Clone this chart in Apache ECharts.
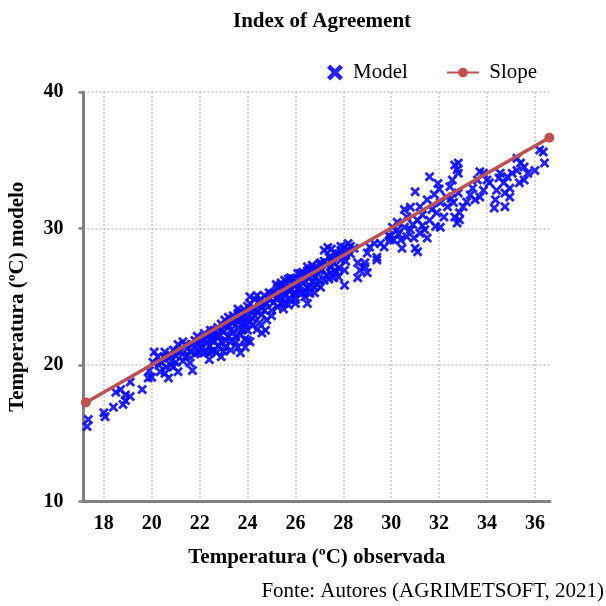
<!DOCTYPE html>
<html>
<head>
<meta charset="utf-8">
<script src="https://cdn.jsdelivr.net/npm/echarts@6/dist/echarts.min.js"></script>
<style>
  html, body { margin: 0; padding: 0; background: #ffffff; }
  #chart { width: 606px; height: 606px; }
</style>
</head>
<body>
<div id="chart"></div>
<script>
// Observed vs. modelled temperature pairs [observed, model], grouped by range
const pointsBelow20 = [
  [17.35,16.0],[17.3,15.5],[18.0,16.5],[18.05,16.2],[18.4,16.9],[18.8,17.1],[18.9,17.4],
  [18.5,18.0],[18.7,18.2],[18.9,17.8],[19.1,17.7],[19.1,18.75],[19.6,18.2],[19.85,19.05],
  [20.0,19.1],[19.9,19.6]
];
const points20to22 = [
  [20.1,20.95],[20.05,20.2],[20.35,19.5],[20.55,19.4],[20.7,19.05],[20.6,19.85],[20.9,19.85],
  [21.1,19.5],[20.8,20.7],[21.1,20.9],[20.55,20.95],[20.25,20.6],[21.4,20.6],[21.6,20.15],
  [21.7,19.6],[21.1,21.5],[21.4,21.5],[21.8,21.8],[21.9,20.9],[21.2,21.0],[21.5,21.2],
  [21.7,21.5],[21.3,20.3],[21.8,20.8],[21.9,21.6],[21.6,21.0],[21.0,20.2],[20.8,20.0],
  [20.4,20.2],[20.7,20.5],[21.3,21.7],[21.5,20.7],[21.0,20.7],[20.3,20.0],[20.5,20.6],
  [20.9,21.1],[21.9,22.1]
];
const points22to24 = [
  [22.05,21.3],[22.35,20.9],[22.4,20.4],[22.2,21.95],[22.45,22.2],[22.6,22.55],[22.05,21.6],
  [22.2,20.9],[22.6,21.1],[22.55,22.05],[22.75,22.75],[23.05,23.3],[23.2,23.5],[23.3,22.55],
  [23.5,22.05],[23.6,21.3],[23.3,21.1],[23.05,21.3],[22.9,20.6],[23.7,20.9],[23.9,21.3],
  [24.0,21.8],[23.9,23.1],[23.5,23.3],[23.6,23.8],[23.7,23.3],[22.75,22.05],[22.45,22.55],
  [22.1,21.9],[22.3,21.6],[22.5,21.8],[22.8,22.2],[22.9,21.7],[22.6,22.4],[23.0,22.4],
  [22.9,23.0],[22.7,20.9],[22.5,21.0],[23.1,21.8],[23.2,22.9],[23.4,23.1],[23.6,23.2],
  [23.8,23.5],[23.9,22.9],[23.3,21.7],[23.7,22.2],[23.9,24.0],[23.6,24.1],[23.4,23.6],
  [22.0,21.0],[22.2,22.3],[22.4,21.4],[22.6,21.7],[22.8,21.4],[22.9,22.6],[23.0,21.0],
  [23.1,22.9],[23.2,22.1],[23.3,23.2],[23.4,22.4],[23.5,21.7],[23.6,22.7],[23.7,23.9],
  [23.8,22.6],[23.9,21.9]
];
const points24to26 = [
  [24.1,21.7],[24.0,22.55],[24.0,23.5],[24.1,24.5],[24.1,25.0],[24.4,25.1],[24.3,24.0],
  [24.55,24.5],[24.7,24.0],[24.75,22.55],[24.6,22.35],[25.25,25.7],[25.4,26.0],[25.55,26.2],
  [25.7,25.5],[25.4,24.5],[25.25,24.25],[25.8,26.4],[25.55,25.0],[25.35,25.8],[25.55,24.55],
  [25.25,24.95],[25.8,25.5],[24.2,23.4],[24.4,23.9],[24.5,23.1],[24.6,24.2],[24.8,24.5],
  [24.9,24.8],[25.0,24.0],[24.3,24.8],[24.7,25.1],[25.0,25.2],[24.2,22.9],[25.1,25.3],
  [25.2,24.9],[25.5,25.4],[25.6,25.9],[25.8,24.8],[25.9,26.0],[25.4,24.9],[25.7,26.3],
  [25.9,25.2],[24.0,24.3],[24.1,23.2],[24.2,24.1],[24.3,23.6],[24.4,22.6],[24.5,24.7],
  [24.6,23.7],[24.7,24.6],[24.8,23.3],[24.9,25.3],[25.0,23.6],[25.1,24.6],[25.2,25.9],
  [25.3,25.0],[25.5,24.1],[25.6,25.6],[25.7,24.4],[25.9,26.3]
];
const points26to29 = [
  [26.1,26.7],[26.2,26.2],[26.5,25.7],[26.6,26.4],[26.8,25.3],[26.4,25.0],[26.0,24.5],
  [26.1,25.5],[26.8,27.0],[26.5,24.5],[26.1,26.0],[26.0,24.8],[26.4,25.3],[26.2,26.7],
  [26.5,27.2],[26.8,25.7],[26.6,25.25],[27.05,27.5],[27.2,28.4],[27.35,28.6],[27.5,27.9],
  [27.65,26.95],[27.8,26.45],[27.45,26.75],[27.2,26.2],[27.9,27.7],[28.05,28.6],[28.2,28.9],
  [28.3,28.15],[27.8,28.15],[28.05,26.95],[26.9,26.75],[27.05,25.7],[28.05,25.85],[26.0,25.9],
  [26.2,25.4],[26.3,26.0],[26.4,26.6],[26.6,27.0],[26.7,26.1],[26.9,27.2],[27.0,26.9],
  [26.8,26.4],[26.3,25.3],[27.0,26.2],[26.5,26.9],[26.9,25.9],[27.1,27.0],[27.3,27.3],
  [27.4,27.9],[27.6,27.5],[27.7,28.1],[27.9,28.4],[28.0,28.0],[27.3,26.6],[27.6,26.4],
  [27.8,27.1],[28.1,27.6],[28.2,28.4],[27.5,28.5],[28.3,28.7],[28.45,28.55],
  [26.0,25.3],[26.3,26.8],[26.6,25.8],[26.7,27.3],[27.0,27.4],[27.2,27.6],[27.4,26.3],
  [27.5,27.2],[27.7,26.8],[27.9,28.7],[28.1,28.2],
  [28.6,27.5],[28.9,27.5],[28.7,26.95],[29.0,26.75],[28.9,27.2],[28.6,26.4],[29.4,27.7],
  [29.4,27.9],[29.1,28.65],[29.3,28.9],[29.55,28.9],[29.7,28.65],[29.95,29.15],[29.9,29.5],
  [29.0,28.2]
];
const points30to33 = [
  [30.05,30.1],[32.65,34.65],[32.75,34.3],[31.6,33.8],[31.0,32.7],[32.0,32.9],[32.55,33.55],
  [32.45,33.05],[32.8,32.6],[31.5,32.1],[30.55,31.4],[30.8,31.55],[31.2,31.6],[32.05,31.9],
  [32.35,31.6],[32.6,31.9],[32.2,30.85],[32.65,30.85],[32.75,30.4],[31.85,30.15],[31.6,30.6],
  [31.1,30.6],[31.4,29.9],[30.8,29.9],[30.55,30.1],[30.25,29.9],[29.95,29.4],[30.1,29.15],
  [30.4,29.15],[30.65,29.4],[30.95,29.3],[31.2,29.65],[31.5,29.3],[30.45,28.55],[31.0,28.55],
  [31.1,28.3],[30.25,30.45],[30.65,30.85],[32.05,30.1],[31.9,31.15],[31.3,31.0],[30.9,30.3],
  [31.7,31.4],[32.3,32.3],[31.8,32.5],[30.3,29.6],[31.3,30.2],[32.5,32.2],[31.95,33.3]
];
const pointsAbove33 = [
  [36.35,35.6],[36.4,34.8],[36.2,35.75],[35.25,35.15],[35.4,34.8],[35.55,34.5],[35.7,34.05],
  [35.25,34.25],[35.55,33.55],[35.35,33.35],[35.05,34.05],[34.85,33.8],[34.7,33.35],[34.95,32.95],
  [34.75,32.6],[34.95,32.3],[34.75,31.6],[34.3,31.5],[34.35,32.1],[34.4,32.8],[34.1,33.35],
  [34.0,33.55],[33.85,34.05],[33.7,34.15],[33.6,33.55],[33.4,32.95],[33.3,32.45],[33.5,32.1],
  [33.7,32.3],[33.85,32.8],[33.15,31.95],[33.0,31.6],[32.85,31.15],[32.8,34.8],[32.8,34.05],
  [32.85,30.65],[34.5,33.7],[34.55,34.05],[36.0,34.25]
];
// Fitted slope line end points [observed, model]
const slopeLine = [[17.25, 17.25], [36.6, 36.65]];
// Axis ticks
const xTicks = [18, 20, 22, 24, 26, 28, 30, 32, 34, 36];
const xRange = [17.15, 36.63];
const yRange = [10, 40];
const yStep = 10;

const modelPoints = [].concat(pointsBelow20, points20to22, points22to24,
  points24to26, points26to29, points30to33, pointsAbove33);

// Bold "x" marker
const crossPath = 'path://M0,2L2,0L5,3L8,0L10,2L7,5L10,8L8,10L5,7L2,10L0,8L3,5Z';
const serif = '"Liberation Serif", "DejaVu Serif", serif';
const axisGray = '#808080';

const chart = echarts.init(document.getElementById('chart'), null, { renderer: 'canvas' });
chart.setOption({
  backgroundColor: '#ffffff',
  animation: false,
  title: {
    text: 'Index of Agreement',
    left: 228,
    top: 6,
    textStyle: { fontFamily: serif, fontWeight: 'bold', fontSize: 21, color: '#000' }
  },
  legend: [
    {
      data: [{ name: 'Model', icon: crossPath }],
      left: 322, top: 57,
      itemWidth: 26, itemHeight: 16,
      textStyle: { fontFamily: serif, fontSize: 21, color: '#000' }
    },
    {
      data: ['Slope'],
      left: 441, top: 57,
      itemWidth: 32, itemHeight: 12,
      formatter: function (n) { return ' ' + n; },
      textStyle: { fontFamily: serif, fontSize: 21, color: '#000' }
    }
  ],
  grid: {
    left: 83.5, right: 56, top: 92, bottom: 104.5,
    containLabel: false,
    outerBoundsMode: 'none'
  },
  xAxis: {
    type: 'value',
    min: xRange[0], max: xRange[1],
    name: 'Temperatura (ºC) observada',
    nameLocation: 'middle',
    nameGap: 46,
    nameTextStyle: { fontFamily: serif, fontWeight: 'bold', fontSize: 21, color: '#000' },
    axisLine: { show: true, onZero: false, lineStyle: { color: axisGray, width: 3 } },
    axisTick: { show: false, customValues: xTicks },
    axisLabel: {
      customValues: xTicks,
      margin: 12,
      fontFamily: serif, fontWeight: 'bold', fontSize: 20, color: '#000'
    },
    splitLine: { show: true, lineStyle: { color: '#c8c8c8', width: 1.5, type: [2, 2] } }
  },
  yAxis: {
    type: 'value',
    min: yRange[0], max: yRange[1], interval: yStep,
    name: 'Temperatura (ºC) modelo',
    nameLocation: 'middle',
    nameGap: 55,
    nameTextStyle: { fontFamily: serif, fontWeight: 'bold', fontSize: 21, color: '#000' },
    axisLine: { show: true, onZero: false, lineStyle: { color: axisGray, width: 3 } },
    axisTick: { show: true, inside: false, length: 5, lineStyle: { color: axisGray, width: 2.5 } },
    axisLabel: {
      margin: 20,
      fontFamily: serif, fontWeight: 'bold', fontSize: 20, color: '#000'
    },
    splitLine: { show: true, lineStyle: { color: '#c8c8c8', width: 1.5, type: [2, 2] } }
  },
  series: [
    {
      name: 'Model',
      type: 'scatter',
      data: modelPoints,
      symbol: crossPath,
      symbolSize: 10,
      itemStyle: { color: '#0a0aff', opacity: 0.9 },
      emphasis: { disabled: true },
      z: 2
    },
    {
      name: 'Slope',
      type: 'line',
      data: slopeLine,
      symbol: 'circle',
      symbolSize: 10,
      showAllSymbol: true,
      lineStyle: { color: '#c0504d', width: 3.5 },
      itemStyle: { color: '#c0504d' },
      emphasis: { disabled: true },
      z: 3
    }
  ],
  graphic: [
    {
      type: 'text',
      right: 2,
      top: 581,
      style: {
        text: 'Fonte: Autores (AGRIMETSOFT, 2021)',
        font: '21px ' + serif,
        fill: '#000'
      }
    }
  ]
});
</script>
</body>
</html>
